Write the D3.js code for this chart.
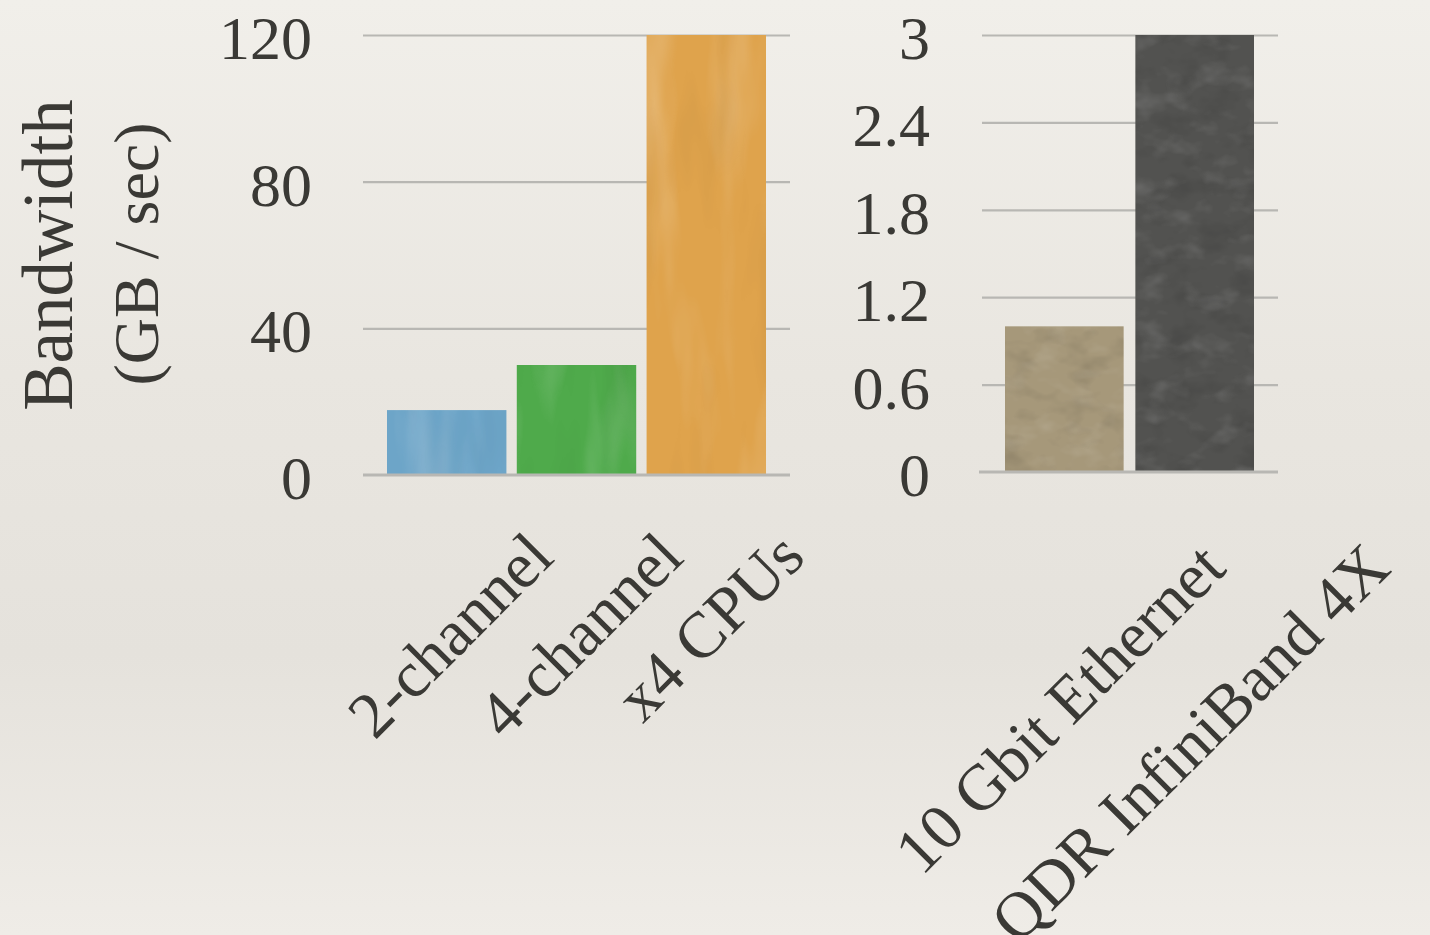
<!DOCTYPE html>
<html>
<head>
<meta charset="utf-8">
<script src="https://cdn.jsdelivr.net/npm/d3@7"></script>
<style>
  html, body { margin: 0; padding: 0; background: #ebe8e2; }
  svg { display: block; }
</style>
</head>
<body>
<svg id="chart" width="1430" height="935"></svg>
<script>
// Memory bandwidth (left panel), GB/sec
const memoryCategories = ["2-channel", "4-channel", "x4 CPUs"];
const memoryBandwidth = [17.7, 30, 120];
const memoryTicks = [0, 40, 80, 120];

// Interconnect bandwidth (right panel), GB/sec
const networkCategories = ["10 Gbit Ethernet", "QDR InfiniBand 4X"];
const networkBandwidth = [1.0, 3.0];
const networkTicks = [0, 0.6, 1.2, 1.8, 2.4, 3];

const yTitleLines = ["Bandwidth", "(GB / sec)"];

// Bar fills (base colour + texture filter)
const memoryFills = [
  { color: "#6da5c8", tex: "tex-soft" },
  { color: "#4faa4b", tex: "tex-soft" },
  { color: "#dfa34c", tex: "tex-soft" }
];
const networkFills = [
  { color: "#a6987a", tex: "tex-stone" },
  { color: "#525250", tex: "tex-stone" }
];

const FONT = "'Liberation Serif', 'Times New Roman', serif";
const INK = "#3a3935";
const GRID = "#b8b7b3";

const svg = d3.select("#chart");
const defs = svg.append("defs");

// Paper-like background
const bg = defs.append("linearGradient").attr("id", "paper")
  .attr("x1", 0).attr("y1", 0).attr("x2", 0).attr("y2", 1);
[["0%", "#f1efea"], ["40%", "#e9e6e0"], ["70%", "#e5e2dc"], ["100%", "#efece7"]]
  .forEach(([o, c]) => bg.append("stop").attr("offset", o).attr("stop-color", c));

// Soft streaky texture for the painted bars
function makeTexture(id, freq, seed, lightA, darkA) {
  const f = defs.append("filter").attr("id", id)
    .attr("x", 0).attr("y", 0).attr("width", 1).attr("height", 1)
    .attr("color-interpolation-filters", "sRGB");
  f.append("feTurbulence").attr("type", "fractalNoise")
    .attr("baseFrequency", freq).attr("numOctaves", 3).attr("seed", seed).attr("result", "n");
  f.append("feColorMatrix").attr("in", "n").attr("type", "matrix")
    .attr("values", `0 0 0 0 1  0 0 0 0 1  0 0 0 0 1  ${lightA} 0 0 0 ${-lightA * 0.5}`)
    .attr("result", "light");
  f.append("feColorMatrix").attr("in", "n").attr("type", "matrix")
    .attr("values", `0 0 0 0 0  0 0 0 0 0  0 0 0 0 0  0 ${-darkA} 0 0 ${darkA * 0.5}`)
    .attr("result", "dark");
  f.append("feComposite").attr("in", "light").attr("in2", "SourceAlpha").attr("operator", "in").attr("result", "lc");
  f.append("feComposite").attr("in", "dark").attr("in2", "SourceAlpha").attr("operator", "in").attr("result", "dc");
  const m = f.append("feMerge");
  m.append("feMergeNode").attr("in", "SourceGraphic");
  m.append("feMergeNode").attr("in", "lc");
  m.append("feMergeNode").attr("in", "dc");
}
makeTexture("tex-soft", "0.025 0.005", 7, 0.45, 0.12);
makeTexture("tex-stone", "0.03 0.045", 11, 0.3, 0.25);

svg.append("rect").attr("width", 1430).attr("height", 935).attr("fill", "url(#paper)");

// Y axis title
const title = svg.append("g").attr("fill", INK).attr("font-family", FONT);
title.append("text")
  .attr("transform", "translate(72,255) rotate(-90)")
  .attr("text-anchor", "middle").attr("font-size", 71)
  .text(yTitleLines[0]);
title.append("text")
  .attr("transform", "translate(158,254) rotate(-90)")
  .attr("text-anchor", "middle").attr("font-size", 64)
  .text(yTitleLines[1]);

function panel(opt) {
  const g = svg.append("g");
  const y = d3.scaleLinear().domain([0, d3.max(opt.ticks)]).range([opt.y0, opt.y1]);
  const x = d3.scaleBand().domain(opt.categories).range(opt.band).paddingInner(opt.pad).paddingOuter(0);

  // Gridlines + tick labels
  const axis = d3.axisLeft(y)
    .tickValues(opt.ticks.filter(t => t !== 0))
    .tickSize(-(opt.grid[1] - opt.grid[0]))
    .tickPadding(opt.labelGap)
    .tickFormat(d3.format("~g"));
  const ag = g.append("g").attr("transform", `translate(${opt.grid[0]},0)`).call(axis);
  ag.select(".domain").remove();
  ag.selectAll(".tick line").attr("stroke", GRID).attr("stroke-width", 2.2);
  ag.selectAll(".tick text")
    .attr("fill", INK).attr("font-family", FONT).attr("font-size", 62)
    .attr("dy", "0.38em");

  // zero label
  g.append("text")
    .attr("x", opt.grid[0] - opt.labelGap).attr("y", y(0)).attr("dy", "0.38em")
    .attr("text-anchor", "end").attr("fill", INK)
    .attr("font-family", FONT).attr("font-size", 62)
    .text(d3.format("~g")(0));

  // Bars
  g.selectAll("rect.bar").data(opt.values).join("rect")
    .attr("class", "bar")
    .attr("x", (d, i) => x(opt.categories[i]))
    .attr("width", x.bandwidth())
    .attr("y", d => y(d))
    .attr("height", d => y(0) - y(d))
    .attr("fill", (d, i) => opt.fills[i].color)
    .attr("filter", (d, i) => `url(#${opt.fills[i].tex})`);

  // Baseline drawn over the bar feet
  g.append("line")
    .attr("x1", opt.baseStart).attr("x2", opt.grid[1])
    .attr("y1", y(0)).attr("y2", y(0))
    .attr("stroke", GRID).attr("stroke-width", 3);

  // Rotated category labels, centred under each bar
  const lab = g.selectAll("text.cat").data(opt.categories).join("text")
    .attr("class", "cat")
    .attr("text-anchor", "middle").attr("dy", "0.32em")
    .attr("fill", INK).attr("font-family", FONT).attr("font-size", 65)
    .text(d => d);
  lab.each(function (d) {
    const len = this.getComputedTextLength();
    const half = (len / 2) * Math.SQRT1_2 + 15;
    const cx = x(d) + x.bandwidth() / 2 + opt.labelShift;
    const cy = opt.labelTop + half;
    d3.select(this).attr("transform", `translate(${cx},${cy}) rotate(-45)`);
  });
}

panel({
  categories: memoryCategories, values: memoryBandwidth, ticks: memoryTicks,
  fills: memoryFills, y0: 475, y1: 35, grid: [363, 790], baseStart: 363,
  band: [387, 766], pad: 0.08, labelGap: 51, labelTop: 530, labelShift: 4
});

panel({
  categories: networkCategories, values: networkBandwidth, ticks: networkTicks,
  fills: networkFills, y0: 472, y1: 35, grid: [982, 1278], baseStart: 979,
  band: [1005, 1254], pad: 0.09, labelGap: 52, labelTop: 541, labelShift: -4
});
</script>
</body>
</html>
